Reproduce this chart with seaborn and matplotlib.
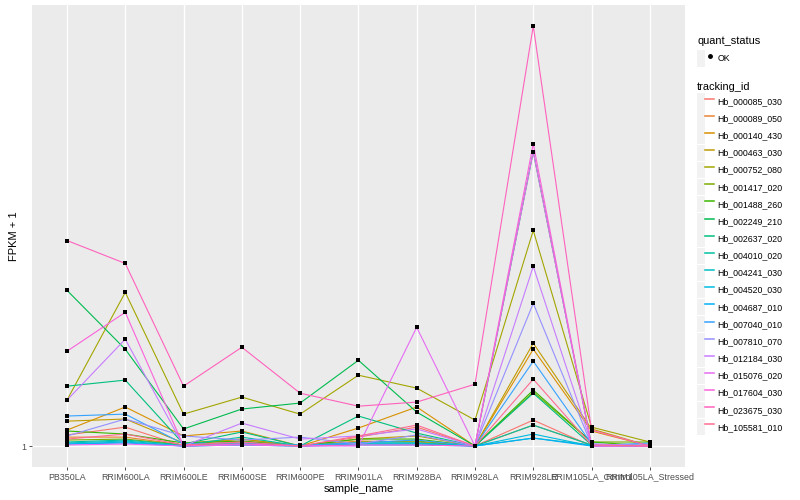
import numpy as np
import pandas as pd
import seaborn as sns
import matplotlib.pyplot as plt

from matplotlib.lines import Line2D
from matplotlib.patches import Rectangle
from matplotlib.legend_handler import HandlerTuple

samples = [
    "PB350LA", "RRIM600LA", "RRIM600LE", "RRIM600SE", "RRIM600PE", "RRIM901LA",
    "RRIM928BA", "RRIM928LA", "RRIM928LE", "RRIM105LA_Control", "RRIM105LA_Stressed",
]

# FPKM + 1 per gene, same order as samples
hb_000085_030 = [1.056, 1.098, 1.0, 1.025, 1.0, 1.045, 1.098, 1.0, 1.137, 1.0, 1.0]
hb_000089_050 = [1.045, 1.045, 1.005, 1.035, 1.0, 1.025, 1.020, 1.0, 1.109, 1.005, 1.0]
hb_000140_430 = [1.082, 1.213, 1.051, 1.077, 1.0, 1.093, 1.213, 1.0, 1.615, 1.077, 1.0]
hb_000463_030 = [1.131, 1.143, 1.015, 1.035, 1.0, 1.035, 1.051, 1.0, 1.664, 1.088, 1.0]
hb_000752_080 = [1.255, 2.140, 1.171, 1.274, 1.171, 1.420, 1.332, 1.137, 2.908, 1.098, 1.020]
hb_001417_020 = [1.030, 1.035, 1.005, 1.015, 1.0, 1.020, 1.025, 1.0, 1.306, 1.020, 1.020]
hb_001488_260 = [1.077, 1.061, 1.015, 1.025, 1.0, 1.035, 1.035, 1.0, 1.319, 1.020, 1.0]
hb_002249_210 = [2.162, 1.615, 1.088, 1.201, 1.237, 1.529, 1.183, 1.0, 4.296, 1.005, 1.0]
hb_002637_020 = [1.345, 1.386, 1.010, 1.072, 1.0, 1.160, 1.066, 1.0, 1.299, 1.005, 1.0]
hb_004010_020 = [1.020, 1.030, 1.005, 1.045, 1.0, 1.015, 1.015, 1.0, 1.109, 1.005, 1.0]
hb_004241_030 = [1.015, 1.025, 1.0, 1.010, 1.0, 1.015, 1.015, 1.0, 1.040, 1.005, 1.0]
hb_004520_030 = [1.010, 1.020, 1.0, 1.005, 1.0, 1.010, 1.010, 1.0, 1.061, 1.0, 1.015]
hb_004687_010 = [1.010, 1.015, 1.0, 1.005, 1.0, 1.005, 1.005, 1.0, 1.040, 1.0, 1.0]
hb_007040_010 = [1.160, 1.171, 1.010, 1.015, 1.005, 1.015, 1.030, 1.0, 1.522, 1.010, 1.0]
hb_007810_070 = [1.051, 1.143, 1.051, 1.030, 1.045, 1.010, 1.056, 1.0, 2.027, 1.005, 1.010]
hb_012184_030 = [1.255, 1.697, 1.0, 1.120, 1.035, 1.051, 1.088, 1.0, 2.434, 1.010, 1.0]
hb_015076_020 = [1.005, 1.010, 1.0, 1.005, 1.0, 1.0, 1.800, 1.0, 4.296, 1.0, 1.0]
hb_017604_030 = [1.599, 1.939, 1.0, 1.010, 1.0, 1.005, 1.005, 1.0, 4.469, 1.0, 1.0]
hb_023675_030 = [2.767, 2.470, 1.345, 1.631, 1.299, 1.218, 1.243, 1.358, 8.006, 1.082, 1.0]
hb_105581_010 = [1.035, 1.061, 1.005, 1.020, 1.0, 1.051, 1.109, 1.0, 1.392, 1.005, 1.0]

genes = {
    "Hb_000085_030": hb_000085_030,
    "Hb_000089_050": hb_000089_050,
    "Hb_000140_430": hb_000140_430,
    "Hb_000463_030": hb_000463_030,
    "Hb_000752_080": hb_000752_080,
    "Hb_001417_020": hb_001417_020,
    "Hb_001488_260": hb_001488_260,
    "Hb_002249_210": hb_002249_210,
    "Hb_002637_020": hb_002637_020,
    "Hb_004010_020": hb_004010_020,
    "Hb_004241_030": hb_004241_030,
    "Hb_004520_030": hb_004520_030,
    "Hb_004687_010": hb_004687_010,
    "Hb_007040_010": hb_007040_010,
    "Hb_007810_070": hb_007810_070,
    "Hb_012184_030": hb_012184_030,
    "Hb_015076_020": hb_015076_020,
    "Hb_017604_030": hb_017604_030,
    "Hb_023675_030": hb_023675_030,
    "Hb_105581_010": hb_105581_010,
}

# ggplot2 default hue palette, 20 levels
palette = [
    "#F8766D", "#EA8331", "#D89000", "#C09B00", "#A3A500",
    "#7CAE00", "#39B600", "#00BB4E", "#00BF7D", "#00C1A3",
    "#00BFC4", "#00BAE0", "#00B0F6", "#35A2FF", "#9590FF",
    "#C77CFF", "#E76BF3", "#FA62DB", "#FF62BC", "#FF6C91",
]

rows = []
for gid, vals in genes.items():
    for s, v in zip(samples, vals):
        rows.append({"sample_name": s, "tracking_id": gid, "fpkm1": v, "quant_status": "OK"})
df = pd.DataFrame(rows)

plt.rcParams["font.family"] = ["Liberation Sans", "DejaVu Sans"]

fig = plt.figure(figsize=(8, 5), dpi=100)
ax = fig.add_axes([0.04, 0.066, 0.816, 0.924])
ax.set_facecolor("#EBEBEB")
for sp in ax.spines.values():
    sp.set_visible(False)

sns.lineplot(
    data=df, x="sample_name", y="fpkm1", hue="tracking_id",
    hue_order=list(genes.keys()), palette=palette,
    linewidth=0.8, ax=ax, legend=False, sort=False, zorder=3,
)
sns.scatterplot(
    data=df, x="sample_name", y="fpkm1", color="black",
    s=10, marker="s", linewidth=0, ax=ax, legend=False, zorder=4,
)

ax.set_yscale("log")
lo, hi = np.log10(df["fpkm1"].min()), np.log10(df["fpkm1"].max())
pad = (hi - lo) * 0.05
ax.set_ylim(10 ** (lo - pad), 10 ** (hi + pad))
ax.set_yticks([1])
ax.set_yticklabels(["1"])
ax.yaxis.set_minor_locator(plt.NullLocator())
ax.set_xlim(-0.6, len(samples) - 0.4)

ax.set_axisbelow(True)
ax.grid(True, color="white", linewidth=1.0)
ax.tick_params(axis="both", colors="#333333", length=2.5, width=0.6,
               labelsize=6.4, labelcolor="#4D4D4D", pad=1.5)

ax.set_xlabel("sample_name", fontsize=8, labelpad=2)
ax.set_ylabel("FPKM + 1", fontsize=8, labelpad=2)

# legends
key_bg = dict(facecolor="#F2F2F2", edgecolor="none")
hmap = {tuple: HandlerTuple(ndivide=None, pad=0)}
q_handles = [(Rectangle((0, 0), 1, 1, **key_bg),
              Line2D([0], [0], marker="o", color="black", linestyle="none", markersize=2.5))]
leg1 = fig.legend(
    q_handles, ["OK"], title="quant_status", loc="upper left",
    bbox_to_anchor=(0.866, 0.937), frameon=False, borderpad=0,
    fontsize=6.3, title_fontsize=7.9, handlelength=1.9, handleheight=2.5,
    handletextpad=0.4, alignment="left", handler_map=hmap,
)

t_handles = [(Rectangle((0, 0), 1, 1, **key_bg), Line2D([0], [0], color=c, linewidth=1.1))
             for c in palette]
leg2 = fig.legend(
    t_handles, list(genes.keys()), title="tracking_id", loc="upper left",
    bbox_to_anchor=(0.866, 0.844), frameon=False, borderpad=0,
    fontsize=6.3, title_fontsize=7.9, handlelength=1.9, handleheight=2.5,
    handletextpad=0.4, labelspacing=0.09, alignment="left", handler_map=hmap,
)

fig.savefig("out.png", dpi=100)
